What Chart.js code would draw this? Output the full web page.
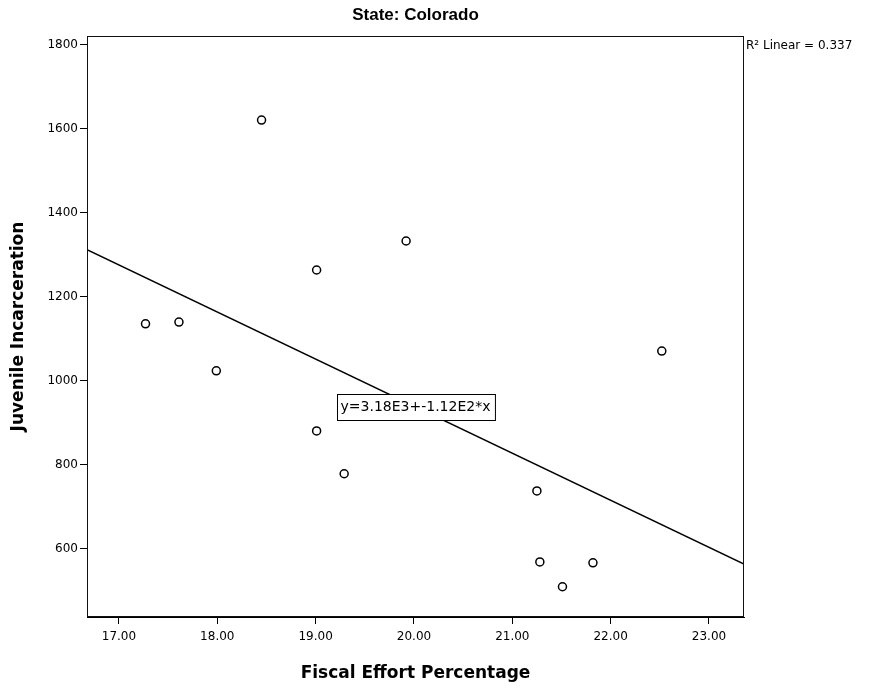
<!DOCTYPE html>
<html>
<head>
<meta charset="utf-8">
<title>State: Colorado</title>
<script src="https://cdn.jsdelivr.net/npm/chart.js@4.4.1/dist/chart.umd.min.js"></script>
<style>
  html, body { margin: 0; padding: 0; background: #fff; }
  #c { display: block; }
</style>
</head>
<body>
<canvas id="c" width="869" height="688"></canvas>
<script>
// Colorado: fiscal effort (%) vs juvenile incarceration
const fiscalEffort = [17.27, 17.61, 17.99, 18.45, 19.01, 19.01, 19.29, 19.92, 21.25, 21.28, 21.51, 21.82, 22.52];
const juvenileIncarceration = [1136, 1140, 1024, 1621, 1264, 881, 779, 1333, 738, 569, 510, 567, 1071];

// Axis ticks and visible ranges
const xTickValues = [17, 18, 19, 20, 21, 22, 23];
const yTickValues = [600, 800, 1000, 1200, 1400, 1600, 1800];
const xRange = [16.675, 23.356];
const yRange = [438, 1821];

// Linear fit: y = intercept + slope * x
const fitIntercept = 3180;
const fitSlope = -112;
const rSquared = 0.337;
const fitLabel = 'y=3.18E3+-1.12E2*x';

const fitAt = x => fitIntercept + fitSlope * x;

const points = fiscalEffort.map((x, i) => ({ x: x, y: juvenileIncarceration[i] }));
const fitLine = [
  { x: xRange[0], y: fitAt(xRange[0]) },
  { x: xRange[1], y: fitAt(xRange[1]) }
];

// Box around the plotting area
const framePlugin = {
  id: 'frame',
  afterDatasetsDraw(chart) {
    const a = chart.chartArea, ctx = chart.ctx;
    ctx.save();
    ctx.strokeStyle = '#111';
    ctx.lineWidth = 1;
    ctx.strokeRect(Math.round(a.left) + 0.5, Math.round(a.top) + 0.5,
                   Math.round(a.right - a.left) - 1, Math.round(a.bottom - a.top) - 1);
    ctx.restore();
  }
};

// Equation box centred on the fit line, at the middle of the x range
const equationPlugin = {
  id: 'equation',
  afterDatasetsDraw(chart) {
    const xs = chart.scales.x, ys = chart.scales.y, ctx = chart.ctx;
    const xm = (xRange[0] + xRange[1]) / 2;
    const px = xs.getPixelForValue(xm);
    const py = ys.getPixelForValue(fitAt(xm));
    ctx.save();
    ctx.font = '14px "DejaVu Sans"';
    const w = ctx.measureText(fitLabel).width + 8;
    const h = 26;
    const left = Math.round(px - w / 2) + 0.5, top = Math.round(py - h / 2) + 0.5;
    ctx.fillStyle = '#fff';
    ctx.fillRect(left, top, w, h);
    ctx.strokeStyle = '#000';
    ctx.lineWidth = 1;
    ctx.strokeRect(left, top, w, h);
    ctx.fillStyle = '#000';
    ctx.textAlign = 'center';
    ctx.textBaseline = 'middle';
    ctx.fillText(fitLabel, px, py + 1);
    ctx.restore();
  }
};

// Goodness-of-fit note beside the top right corner
const rSquaredPlugin = {
  id: 'rsq',
  afterDraw(chart) {
    const a = chart.chartArea, ctx = chart.ctx;
    ctx.save();
    ctx.fillStyle = '#000';
    ctx.textBaseline = 'middle';
    ctx.textAlign = 'left';
    ctx.font = '12px "DejaVu Sans"';
    ctx.fillText('R\u00B2 Linear = ' + rSquared.toFixed(3), a.right + 2, a.top + 10);
    ctx.restore();
  }
};

const tickFont = { family: 'DejaVu Sans', size: 12 };
const titleFont = { family: 'DejaVu Sans', size: 17, weight: 'bold' };

new Chart(document.getElementById('c'), {
  type: 'scatter',
  data: {
    datasets: [
      {
        type: 'line',
        data: fitLine,
        borderColor: '#000',
        borderWidth: 1.5,
        pointRadius: 0,
        fill: false,
        tension: 0,
        order: 2
      },
      {
        data: points,
        pointStyle: 'circle',
        pointRadius: 4,
        pointBorderWidth: 1.5,
        pointBorderColor: '#000',
        pointBackgroundColor: '#fff',
        order: 1
      }
    ]
  },
  options: {
    responsive: false,
    animation: false,
    events: [],
    layout: { padding: { left: 0, right: 125, top: 0, bottom: 0 } },
    plugins: {
      legend: { display: false },
      tooltip: { enabled: false },
      title: {
        display: true,
        text: 'State: Colorado',
        fullSize: false,
        color: '#000',
        font: { family: 'Liberation Sans', size: 17, weight: 'bold' },
        padding: { top: 5, bottom: 10.6 }
      }
    },
    scales: {
      x: {
        type: 'linear',
        min: xRange[0],
        max: xRange[1],
        afterBuildTicks: s => { s.ticks = xTickValues.map(v => ({ value: v })); },
        afterFit: s => { s.height = 71; },
        ticks: {
          callback: v => Number(v).toFixed(2),
          font: tickFont,
          color: '#000',
          padding: 6,
          maxRotation: 0,
          autoSkip: false
        },
        grid: { drawOnChartArea: false, drawTicks: true, tickLength: 7, color: '#000', lineWidth: 1 },
        border: { display: true, color: '#000', width: 1 },
        title: {
          display: true,
          text: 'Fiscal Effort Percentage',
          color: '#000',
          font: titleFont,
          padding: { top: 0, bottom: 4 }
        }
      },
      y: {
        type: 'linear',
        min: yRange[0],
        max: yRange[1],
        afterBuildTicks: s => { s.ticks = yTickValues.map(v => ({ value: v })); },
        afterFit: s => { s.width = 87; },
        ticks: {
          callback: v => String(v),
          font: tickFont,
          color: '#000',
          padding: 2,
          autoSkip: false
        },
        grid: { drawOnChartArea: false, drawTicks: true, tickLength: 7, color: '#000', lineWidth: 1 },
        border: { display: true, color: '#000', width: 1 },
        title: {
          display: true,
          text: 'Juvenile Incarceration',
          color: '#000',
          font: titleFont,
          padding: { top: 8, bottom: 0 }
        }
      }
    }
  },
  plugins: [framePlugin, equationPlugin, rSquaredPlugin]
});
</script>
</body>
</html>
